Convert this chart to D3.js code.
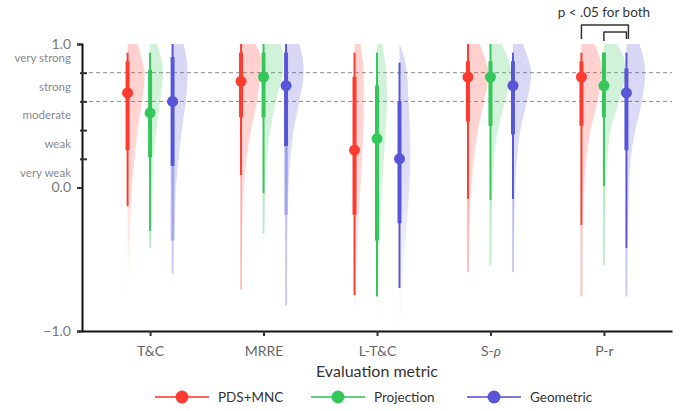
<!DOCTYPE html>
<html>
<head>
<meta charset="utf-8">
<script src="https://cdn.jsdelivr.net/npm/d3@7"></script>
<style>
  body { margin: 0; background: #fff; font-family: Lato, "Noto Sans", sans-serif; }
</style>
</head>
<body>
<div id="wrapper"></div>
<script>
/* DATA */
const metrics = ["T&C", "MRRE", "L-T&C", "S-ρ", "P-r"];
const methods = ["PDS+MNC", "Projection", "Geometric"];
const methodColors = ["#ff3b30", "#34c759", "#5856d6"];

const strengthLabels = ["very weak", "weak", "moderate", "strong", "very strong"];
const strengthPositions = [0.1, 0.3, 0.5, 0.7, 0.9];
const majorTicks = [-1, 0, 1];
const minorTicks = [0.2, 0.4, 0.6, 0.8];
const referenceLines = [0.6, 0.8];

// one row per method, one value per metric
const meanValues = [
  [0.66, 0.74, 0.26, 0.77, 0.77],
  [0.52, 0.77, 0.34, 0.77, 0.71],
  [0.60, 0.71, 0.20, 0.71, 0.66]
];
const innerHigh = [
  [0.88, 0.94, 0.77, 0.88, 0.88],
  [0.82, 0.94, 0.71, 0.88, 0.94],
  [0.91, 0.94, 0.60, 0.88, 0.83]
];
const innerLow = [
  [0.26, 0.49, -0.19, 0.46, 0.43],
  [0.21, 0.49, -0.37, 0.43, 0.49],
  [-0.37, -0.19, -0.25, 0.37, 0.26]
];
const outerHigh = [
  [0.94, 1.0, 0.94, 1.0, 0.94],
  [0.94, 1.0, 0.94, 1.0, 0.94],
  [1.0, 1.0, 0.87, 0.94, 0.94]
];
const outerLow = [
  [-0.13, -0.71, -0.75, -0.59, -0.76],
  [-0.42, -0.32, -0.76, -0.54, -0.54],
  [-0.60, -0.82, -0.70, -0.59, -0.76]
];
// below this value the interval lines are drawn faded
const fadeBelow = [
  [-0.13, 0.09, -1, -0.08, -0.26],
  [-0.30, -0.04, -1, -0.09, 0.01],
  [0.15, 0.29, -1, -0.08, -0.42]
];

// half-violin densities read at these correlation values
const densityKnots = [1.0, 0.9, 0.8, 0.6, 0.4, 0.2, 0, -0.2, -0.4, -0.6, -0.8, -1.0];
const pdsDensity = [
  [0.50, 0.70, 0.85, 0.72, 0.50, 0.35, 0.22, 0.15, 0.10, 0.05, 0, 0],
  [0.70, 1.00, 0.95, 0.80, 0.50, 0.27, 0.14, 0.09, 0.05, 0.03, 0, 0],
  [0.30, 0.40, 0.46, 0.46, 0.44, 0.37, 0.30, 0.22, 0.17, 0.10, 0.07, 0],
  [0.58, 0.84, 1.03, 0.80, 0.50, 0.30, 0.17, 0.10, 0.07, 0.03, 0, 0],
  [0.65, 0.92, 1.03, 0.80, 0.46, 0.25, 0.14, 0.07, 0.04, 0.03, 0, 0]
];
const projectionDensity = [
  [0.35, 0.55, 0.65, 0.50, 0.32, 0.18, 0.12, 0.08, 0.03, 0, 0, 0],
  [0.85, 1.00, 0.95, 0.62, 0.34, 0.17, 0.09, 0.05, 0.02, 0, 0, 0],
  [0.25, 0.38, 0.46, 0.50, 0.42, 0.34, 0.27, 0.20, 0.15, 0.10, 0.07, 0],
  [0.55, 0.88, 1.02, 0.72, 0.38, 0.18, 0.10, 0.07, 0.03, 0, 0, 0],
  [0.65, 1.00, 1.08, 0.75, 0.34, 0.17, 0.09, 0.05, 0.03, 0, 0, 0]
];
const geometricDensity = [
  [0.55, 0.70, 0.75, 0.66, 0.46, 0.30, 0.18, 0.12, 0.08, 0.03, 0, 0],
  [0.65, 0.84, 0.88, 0.66, 0.38, 0.22, 0.12, 0.09, 0.05, 0.04, 0.02, 0],
  [0, 0.25, 0.37, 0.45, 0.52, 0.54, 0.49, 0.39, 0.29, 0.20, 0.12, 0],
  [0.50, 0.75, 0.92, 0.70, 0.37, 0.20, 0.12, 0.09, 0.05, 0, 0, 0],
  [0.65, 0.85, 0.94, 0.77, 0.44, 0.22, 0.14, 0.10, 0.07, 0.04, 0, 0]
];
const densities = [pdsDensity, projectionDensity, geometricDensity];

const annotationText = "p < .05 for both";

function drawViolins() {
  const series = methods.flatMap((method, mi) => metrics.map((metric, ki) => ({
    method, metric, mi,
    color: methodColors[mi],
    mean: meanValues[mi][ki],
    inner: [innerLow[mi][ki], innerHigh[mi][ki]],
    outer: [outerLow[mi][ki], outerHigh[mi][ki]],
    fade: fadeBelow[mi][ki],
    density: densityKnots.map((v, j) => [v, densities[mi][ki][j]])
  })));

  /* CHART DIMENSIONS */
  const dimensions = {
    width: 688,
    height: 411,
    margin: { top: 44, right: 16, bottom: 80, left: 82 }
  };
  dimensions.boundedWidth = dimensions.width - dimensions.margin.left - dimensions.margin.right;
  dimensions.boundedHeight = dimensions.height - dimensions.margin.top - dimensions.margin.bottom;

  /* SCALES */
  const yScale = d3.scaleLinear().domain([-1, 1]).range([dimensions.boundedHeight, 0]);
  const xScale = d3.scalePoint().domain(metrics).range([0, dimensions.boundedWidth]).padding(0.6);
  const offsetScale = d3.scalePoint().domain(methods).range([-22.5, 22.5]);
  const widthScale = d3.scaleLinear().domain([0, 1]).range([0, 20]);
  const xPos = d => xScale(d.metric) + offsetScale(d.method);

  const wrapper = d3.select('#wrapper')
    .append('svg')
    .attr('width', dimensions.width)
    .attr('height', dimensions.height)
    .attr('viewBox', [0, 0, dimensions.width, dimensions.height]);

  const defs = wrapper.append('defs');
  const bounds = wrapper.append('g')
    .attr('transform', `translate(${dimensions.margin.left} ${dimensions.margin.top})`);

  // violin fill gradients, one per method
  methodColors.forEach((color, mi) => {
    const g = defs.append('linearGradient')
      .attr('id', `fill-${mi}`)
      .attr('gradientUnits', 'userSpaceOnUse')
      .attr('x1', 0).attr('x2', 0)
      .attr('y1', yScale(1)).attr('y2', yScale(-1));
    [[0, 0.24], [0.45, 0.2], [0.75, 0.07], [1, 0.02]].forEach(([o, a]) => {
      g.append('stop').attr('offset', o).attr('stop-color', color).attr('stop-opacity', a);
    });
  });

  // line fade gradients, one per series
  series.forEach((d, i) => {
    const f = Math.max(0, Math.min(1, (1 - d.fade) / 2));
    const g = defs.append('linearGradient')
      .attr('id', `fade-${i}`)
      .attr('gradientUnits', 'userSpaceOnUse')
      .attr('x1', 0).attr('x2', 0)
      .attr('y1', yScale(1)).attr('y2', yScale(-1));
    g.append('stop').attr('offset', f).attr('stop-color', d.color).attr('stop-opacity', 1);
    g.append('stop').attr('offset', f).attr('stop-color', d.color).attr('stop-opacity', 0.3);
  });

  /* GRID */
  bounds.append('g')
    .selectAll('line')
    .data(referenceLines)
    .enter()
    .append('line')
    .attr('x1', 0)
    .attr('x2', dimensions.boundedWidth)
    .attr('y1', d => yScale(d))
    .attr('y2', d => yScale(d))
    .attr('stroke', '#8c8c8c')
    .attr('stroke-width', 1)
    .attr('stroke-dasharray', '4 3');

  /* DRAW DATA */
  const areaGenerator = d3.area()
    .y(d => yScale(d[0]))
    .x0(0)
    .x1(d => widthScale(d[1]))
    .curve(d3.curveMonotoneY);

  const groups = bounds.append('g')
    .selectAll('g')
    .data(series)
    .enter()
    .append('g')
    .attr('transform', d => `translate(${xPos(d)} 0)`);

  groups.append('path')
    .attr('d', d => areaGenerator(d.density))
    .attr('fill', d => `url(#fill-${d.mi})`);

  groups.append('line')
    .attr('y1', d => yScale(d.outer[1]))
    .attr('y2', d => yScale(d.outer[0]))
    .attr('stroke', (d, i) => `url(#fade-${i})`)
    .attr('stroke-width', 2);

  groups.append('line')
    .attr('y1', d => yScale(d.inner[1]))
    .attr('y2', d => yScale(d.inner[0]))
    .attr('stroke', (d, i) => `url(#fade-${i})`)
    .attr('stroke-width', 4);

  groups.append('circle')
    .attr('cy', d => yScale(d.mean))
    .attr('r', 5.5)
    .attr('fill', d => d.color);

  /* AXES */
  const yAxis = bounds.append('g')
    .call(d3.axisLeft(yScale).tickValues(majorTicks).tickSize(5).tickPadding(6).tickFormat(d3.format('.1f')));
  yAxis.select('.domain').attr('stroke', '#111').attr('stroke-width', 2);
  yAxis.selectAll('.tick line').attr('stroke', '#333').attr('stroke-width', 2);
  yAxis.selectAll('.tick text')
    .attr('font-family', 'Lato, sans-serif')
    .attr('font-size', 14)
    .attr('fill', '#777');

  const minorAxis = bounds.append('g')
    .attr('transform', 'translate(-2 0)')
    .call(d3.axisRight(yScale).tickValues(minorTicks).tickSize(7).tickFormat(''));
  minorAxis.select('.domain').remove();
  minorAxis.selectAll('.tick line').attr('stroke', '#333').attr('stroke-width', 2);

  bounds.append('g')
    .attr('text-anchor', 'end')
    .attr('font-size', 11.5)
    .attr('fill', '#8a8a8a')
    .selectAll('text')
    .data(strengthLabels)
    .enter()
    .append('text')
    .attr('x', -11)
    .attr('y', (d, i) => yScale(strengthPositions[i]))
    .attr('dy', '0.32em')
    .text(d => d);

  const xAxis = bounds.append('g')
    .attr('transform', `translate(0 ${dimensions.boundedHeight})`)
    .call(d3.axisBottom(xScale).tickSize(5).tickPadding(10).tickSizeOuter(0));
  xAxis.select('.domain').attr('stroke', '#111').attr('stroke-width', 2);
  xAxis.selectAll('.tick line').attr('stroke', '#333').attr('stroke-width', 2);
  xAxis.selectAll('.tick text')
    .attr('font-family', 'Lato, sans-serif')
    .attr('font-size', 14)
    .attr('fill', '#666')
    .each(function(d) {
      if (d.includes('ρ')) {
        const t = d3.select(this).text('');
        t.append('tspan').text(d.replace('ρ', ''));
        t.append('tspan').attr('font-style', 'italic').text('ρ');
      }
    });

  bounds.append('text')
    .attr('x', dimensions.boundedWidth / 2)
    .attr('y', dimensions.boundedHeight + 46)
    .attr('text-anchor', 'middle')
    .attr('font-size', 16)
    .attr('fill', '#333')
    .text('Evaluation metric');

  /* ANNOTATION */
  const lastMetric = metrics[metrics.length - 1];
  const bx = m => xScale(lastMetric) + offsetScale(m);
  const ann = bounds.append('g')
    .attr('fill', 'none')
    .attr('stroke', '#333')
    .attr('stroke-width', 1.5)
    .attr('stroke-linejoin', 'round');
  ann.append('path')
    .attr('d', `M${bx(methods[0])},${-5} V${-19} H${bx(methods[2]) + 2} V${-5}`);
  ann.append('path')
    .attr('d', `M${bx(methods[1])},${-3} V${-12} H${bx(methods[2])} V${-5}`);
  bounds.append('text')
    .attr('x', (bx(methods[0]) + bx(methods[2])) / 2)
    .attr('y', -27)
    .attr('text-anchor', 'middle')
    .attr('font-size', 13.5)
    .attr('fill', '#333')
    .text(annotationText);

  /* LEGEND */
  const legendScale = d3.scalePoint().domain(methods).range([182, 494]);
  const legend = wrapper.append('g')
    .selectAll('g')
    .data(methods)
    .enter()
    .append('g')
    .attr('transform', d => `translate(${legendScale(d)} 397)`);
  legend.append('line')
    .attr('x1', -27).attr('x2', 27)
    .attr('stroke', (d, i) => methodColors[i])
    .attr('stroke-opacity', 0.8)
    .attr('stroke-width', 2);
  legend.append('circle')
    .attr('r', 6.5)
    .attr('fill', (d, i) => methodColors[i]);
  legend.append('text')
    .attr('x', 36)
    .attr('dy', '0.35em')
    .attr('font-size', 13.5)
    .attr('fill', '#333')
    .text(d => d);
}

drawViolins();
</script>
</body>
</html>
